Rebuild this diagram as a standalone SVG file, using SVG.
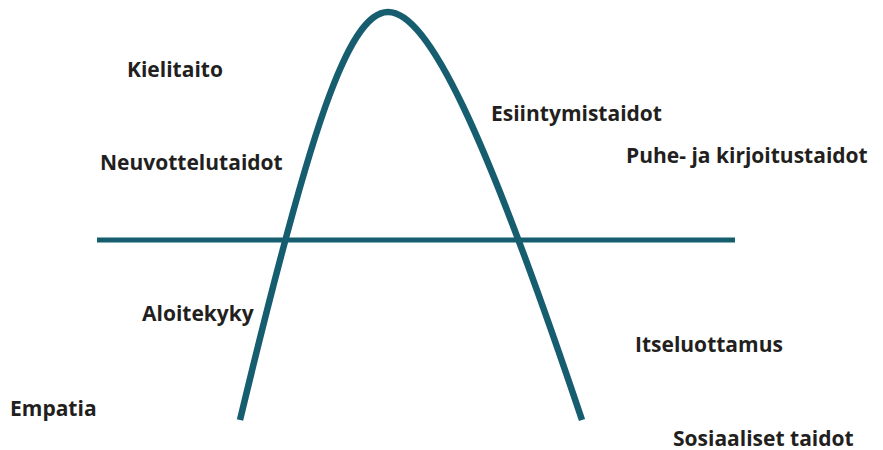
<svg xmlns="http://www.w3.org/2000/svg" width="883" height="450" viewBox="0 0 883 450">
<style>
.lbl{font-family:"Open Sans","Noto Sans","Liberation Sans",sans-serif;font-weight:700;font-size:21px;fill:#231f20}
.ln{fill:none;stroke:#165e6f;stroke-linecap:butt}
</style>
<rect width="883" height="450" fill="#ffffff"/>
<g id="connectors">
<path id="axis" class="ln" stroke-width="5" d="M97,240 H735"/>
<path id="curve" class="ln" stroke-width="6.5" d="M240,420 C309.6,130 348,12 388,12 C428,12 484.6,130 582,420"/>
</g>
<g id="n-kielitaito"><text class="lbl" x="127" y="77">Kielitaito</text></g>
<g id="n-neuvottelutaidot"><text class="lbl" x="100" y="170">Neuvottelutaidot</text></g>
<g id="n-esiintymistaidot"><text class="lbl" x="491" y="121">Esiintymistaidot</text></g>
<g id="n-puhe"><text class="lbl" x="626" y="163">Puhe- ja kirjoitustaidot</text></g>
<g id="n-aloitekyky"><text class="lbl" x="142" y="321">Aloitekyky</text></g>
<g id="n-empatia"><text class="lbl" x="10" y="416">Empatia</text></g>
<g id="n-itseluottamus"><text class="lbl" x="635" y="352">Itseluottamus</text></g>
<g id="n-sosiaaliset"><text class="lbl" x="673" y="446">Sosiaaliset taidot</text></g>
</svg>
